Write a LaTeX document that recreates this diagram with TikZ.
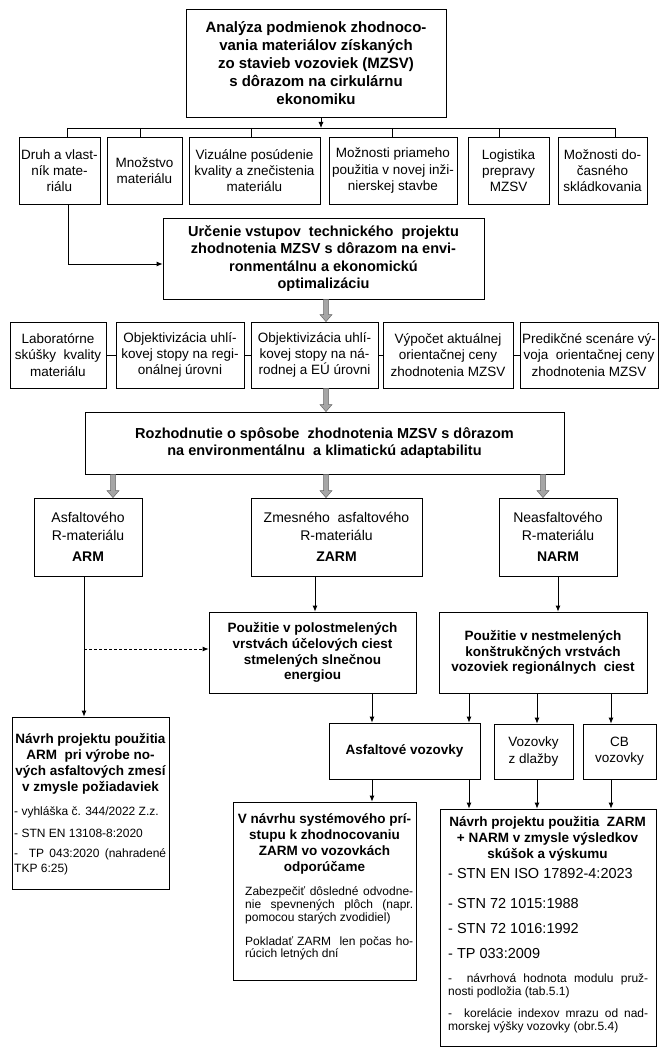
\documentclass[tikz,border=0pt]{standalone}
\usepackage{fontspec}
\setmainfont{Liberation Sans}
\usetikzlibrary{arrows.meta,calc}
\newcommand\fs[2]{\fontsize{#1}{#2}\selectfont}
% box: [style]{name}{x1}{y1}{x2}{y2}{text}
\newcommand\bx[7][]{\node[box,#1,minimum width={#5pt-#3pt},minimum height={#6pt-#4pt}] (#2) at ({(#3+#5)/2},{(#4+#6)/2}) {#7};}
\newcommand\garrow[2]{%
  \path let \p1=(#1), \p2=(#2) in
   [fill=gray!70, draw=black!60, line width=0.5pt]
   (\x1-2.5pt,\y1) -- (\x1+2.5pt,\y1) -- (\x1+2.5pt,\y2+7pt) -- (\x1+6pt,\y2+7pt) -- (\x1,\y2) -- (\x1-6pt,\y2+7pt) -- (\x1-2.5pt,\y2+7pt) -- cycle;}
\begin{document}
\begin{tikzpicture}[x=1pt,y=-1pt,
  box/.style={draw, line width=0.8pt, inner sep=0pt, align=center},
  arr/.style={line width=0.8pt, -{Latex[length=6pt,width=5pt]}},
  ln/.style={line width=0.8pt},
  tB/.style={font=\bfseries\fs{15}{18}},
  tBm/.style={font=\bfseries\fs{14.5}{17.5}},
  tBs/.style={font=\bfseries\fs{13.5}{15.8}},
  tN/.style={font=\fs{13.5}{16.2}},
  tM/.style={font=\fs{14}{18}},
  item/.style={inner sep=0pt, anchor=west, align=left},
  ]
\fill[white] (0,0) rectangle (659,1048);
\useasboundingbox (0,0) rectangle (659,1048);

% top
\bx[tB]{A}{186}{9}{446}{117}{Analýza podmienok zhodnoco-\\vania materiálov získaných\\zo stavieb vozoviek (MZSV)\\s dôrazom na cirkulárnu\\ekonomiku}

% row 1
\bx[tN]{b1}{19}{137}{100}{204}{Druh a vlast-\\ník mate-\\riálu}
\bx[tN]{b2}{107}{137}{182}{204}{Množstvo\\materiálu}
\bx[tN]{b3}{189}{137}{320}{204}{Vizuálne posúdenie\\kvality a znečistenia\\materiálu}
\bx[tN]{b4}{329}{137}{457}{204}{Možnosti priameho\\použitia v novej inži-\\nierskej stavbe}
\bx[tN]{b5}{468}{137}{549}{204}{Logistika\\prepravy\\MZSV}
\bx[tN]{b6}{558}{137}{647}{204}{Možnosti do-\\časného\\skládkovania}

% bus
\coordinate (dA) at (321,128);
\coordinate (d1) at (67,128);
\coordinate (d2) at (140,128);
\coordinate (d3) at (251,128);
\coordinate (d4) at (392,128);
\coordinate (d5) at (499,128);
\coordinate (d6) at (615,128);
\draw[arr] (A.south -| dA) -- (dA);
\draw[ln] (d1) -- (d6);
\foreach \i in {1,...,6} \draw[ln] (d\i) -- (d\i |- b\i.north);

% second level
\bx[tBm]{U}{163}{218}{484}{299}{Určenie vstupov~~technického~~projektu\\zhodnotenia MZSV s dôrazom na envi-\\ronmentálnu a ekonomickú\\optimalizáciu}
\coordinate (k1) at (68,264);
\draw[arr] (b1.south -| k1) -- (k1) -- (k1 -| U.west);

% row 2
\bx[tN]{c1}{10}{322}{106}{388}{Laboratórne\\skúšky~~kvality\\materiálu}
\bx[tN]{c2}{116}{322}{244}{388}{Objektivizácia uhlí-\\kovej stopy na regi-\\onálnej úrovni}
\bx[tN]{c3}{251}{322}{378}{388}{Objektivizácia uhlí-\\kovej stopy na ná-\\rodnej a EÚ úrovni}
\bx[tN]{c4}{383}{322}{513}{388}{Výpočet aktuálnej\\orientačnej ceny\\zhodnotenia MZSV}
\bx[tN]{c5}{520}{322}{658}{388}{Predikčné scenáre vý-\\voja~~orientačnej ceny\\zhodnotenia MZSV}
\draw[ln] (c1.east) -- (c2.west);
\draw[ln] (c2.east) -- (c3.west);
\draw[ln] (c3.east) -- (c4.west);
\draw[ln] (c4.east) -- (c5.west);

% decision
\bx[tBm]{R}{85}{412}{564}{474}{Rozhodnutie o spôsobe~~zhodnotenia MZSV s dôrazom\\na environmentálnu~~a klimatickú~adaptabilitu}

\coordinate (g1) at (113,0);
\coordinate (g2) at (326,0);
\coordinate (g3) at (543,0);
\garrow{U.south -| g2}{c3.north -| g2}
\garrow{c3.south -| g2}{R.north -| g2}

% materials
\bx[tM]{ARM}{34}{498}{142}{576}{Asfaltového\\R-materiálu\\[3pt]\textbf{ARM}}
\bx[tM]{ZARM}{251}{498}{422}{576}{Zmesného~~asfaltového\\R-materiálu\\[3pt]\textbf{ZARM}}
\bx[tM]{NARM}{499}{498}{617}{576}{Neasfaltového\\R-materiálu\\[3pt]\textbf{NARM}}
\garrow{R.south -| g1}{ARM.north -| g1}
\garrow{R.south -| g2}{ZARM.north -| g2}
\garrow{R.south -| g3}{NARM.north -| g3}

% usage
\bx[tBs]{P}{209}{612}{416}{693}{Použitie v polostmelených\\vrstvách účelových ciest\\stmelených slnečnou\\energiou}
\bx[tBs]{N}{439}{612}{647}{693}{Použitie v nestmelených\\konštrukčných vrstvách\\vozoviek regionálnych~~ciest}

\bx[tBs]{Asf}{329}{723}{480}{779}{Asfaltové vozovky}
\bx[tN]{D}{494}{724}{573}{779}{Vozovky\\z dlažby}
\bx[tN]{CB}{583}{724}{656}{779}{CB\\vozovky}

% bottom boxes
\bx{AN}{12}{717}{169}{889}{}
\bx{V}{233}{802}{416}{980}{}
\bx{ZN}{440}{809}{656}{1046}{}

\node[tBs, align=center, inner sep=0pt] (ANt) at (90.5,764) {Návrh projektu použitia\\ARM~~pri výrobe no-\\vých asfaltových zmesí\\v zmysle požiadaviek};
\node[item, font=\fs{12}{15}] (an1) at (14,812) {- vyhláška č. 344/2022 Z.z.};
\node[item, font=\fs{12}{15}] (an2) at (14,833) {- STN EN 13108-8:2020};
\node[item, font=\fs{12}{15}] (an3) at (14,861.5) {\makebox[152pt][s]{-\ \ TP 043:2020 (nahradené}\\TKP 6:25)};

\node[tBs, align=center, inner sep=0pt] (Vt) at (324.5,844) {V návrhu systémového prí-\\stupu k zhodnocovaniu\\ZARM vo vozovkách\\odporúčame};
\node[item, font=\fs{12}{12.7}] (v1) at (245,905.5) {\makebox[168pt][s]{Zabezpečiť dôsledné odvodne-}\\\makebox[168pt][s]{nie spevnených plôch (napr.}\\pomocou starých zvodidiel)};
\node[item, font=\fs{12}{12.7}] (v2) at (245,948.5) {\makebox[168pt][s]{Pokladať ZARM~~len počas ho-}\\rúcich letných dní};

\node[tBs, align=center, inner sep=0pt] (ZNt) at (547.5,839) {Návrh projektu použitia~~ZARM\\+ NARM v zmysle výsledkov\\skúšok a výskumu};
\node[item, font=\fs{14.5}{16}] (z1) at (448,873) {- STN EN ISO 17892-4:2023};
\node[item, font=\fs{14.5}{16}] (z2) at (448,903) {- STN 72 1015:1988};
\node[item, font=\fs{14.5}{16}] (z3) at (448,928) {- STN 72 1016:1992};
\node[item, font=\fs{14.5}{16}] (z4) at (448,953) {- TP 033:2009};
\node[item, font=\fs{12}{13}] (z5) at (448,985.5) {\makebox[200pt][s]{-\ \ návrhová hodnota modulu pruž-}\\nosti podložia (tab.5.1)};
\node[item, font=\fs{12}{13}] (z6) at (448,1020.5) {\makebox[200pt][s]{-\ \ korelácie indexov mrazu od nad-}\\morskej výšky vozovky (obr.5.4)};

% connectors
\coordinate (vv) at (84,649);
\draw[arr] (ARM.south -| vv) -- (AN.north -| vv);
\draw[arr, dash pattern=on 3pt off 2pt] (vv) -- (vv -| P.west);

\coordinate (xz) at (315,0);
\draw[arr] (ZARM.south -| xz) -- (P.north -| xz);
\draw[arr] (NARM.south) -- (N.north -| NARM.south);

\coordinate (xa) at (372,0);
\coordinate (xb) at (469,0);
\coordinate (xc) at (537,0);
\coordinate (xd) at (611,0);
\draw[arr] (P.south -| xa) -- (Asf.north -| xa);
\draw[arr] (N.south -| xb) -- (Asf.north -| xb);
\draw[arr] (N.south -| xc) -- (D.north -| xc);
\draw[arr] (N.south -| xd) -- (CB.north -| xd);
\draw[arr] (Asf.south -| xa) -- (V.north -| xa);
\draw[arr] (Asf.south -| xb) -- (ZN.north -| xb);
\draw[arr] (D.south -| xc) -- (ZN.north -| xc);
\draw[arr] (CB.south -| xd) -- (ZN.north -| xd);
\end{tikzpicture}
\end{document}
